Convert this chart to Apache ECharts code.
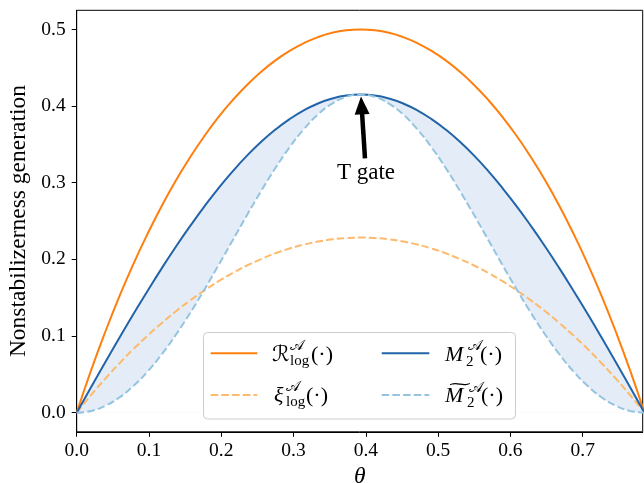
<!DOCTYPE html>
<html><head><meta charset="utf-8">
<script src="https://cdn.jsdelivr.net/npm/echarts@6/dist/echarts.min.js"></script>
<style>html,body{margin:0;padding:0;background:#fff}#c{width:644px;height:483px}</style>
</head><body><div id="c"></div>
<script>
// theta sample points (rad)
const theta = [0, 0.0196, 0.0393, 0.0589, 0.0785, 0.0982, 0.1178, 0.1374, 0.1571, 0.1767, 0.1963,
               0.2160, 0.2356, 0.2553, 0.2749, 0.2945, 0.3142, 0.3338, 0.3534, 0.3731, 0.3927,
               0.4123, 0.4320, 0.4516, 0.4712, 0.4909, 0.5105, 0.5301, 0.5498, 0.5694, 0.5890,
               0.6087, 0.6283, 0.6480, 0.6676, 0.6872, 0.7069, 0.7265, 0.7461, 0.7658, 0.7854];
// R_log (orange solid)
const rLog = [0, 0.0545, 0.1049, 0.1514, 0.1942, 0.2337, 0.2700, 0.3032, 0.3335, 0.3610, 0.3858,
              0.4080, 0.4276, 0.4448, 0.4596, 0.4720, 0.4821, 0.4900, 0.4956, 0.4989, 0.5000,
              0.4989, 0.4956, 0.4900, 0.4821, 0.4720, 0.4596, 0.4448, 0.4276, 0.4080, 0.3858,
              0.3610, 0.3335, 0.3032, 0.2700, 0.2337, 0.1942, 0.1514, 0.1049, 0.0545, 0];
// xi_log (orange dashed)
const xiLog = [0, 0.0227, 0.0440, 0.0642, 0.0830, 0.1006, 0.1170, 0.1324, 0.1465, 0.1596, 0.1715,
               0.1823, 0.1920, 0.2004, 0.2080, 0.2141, 0.2193, 0.2232, 0.2261, 0.2278, 0.2284,
               0.2278, 0.2261, 0.2232, 0.2193, 0.2141, 0.2080, 0.2004, 0.1920, 0.1823, 0.1715,
               0.1596, 0.1465, 0.1324, 0.1170, 0.1006, 0.0830, 0.0642, 0.0440, 0.0227, 0];
// M2 (blue solid)
const m2 = [0, 0.0329, 0.0654, 0.0974, 0.1288, 0.1591, 0.1886, 0.2168, 0.2437, 0.2692, 0.2930,
            0.3151, 0.3353, 0.3534, 0.3694, 0.3831, 0.3945, 0.4034, 0.4099, 0.4138, 0.4150,
            0.4138, 0.4099, 0.4034, 0.3945, 0.3831, 0.3694, 0.3534, 0.3353, 0.3151, 0.2930,
            0.2692, 0.2437, 0.2168, 0.1886, 0.1591, 0.1288, 0.0974, 0.0654, 0.0329, 0];
// M2 tilde (light blue dashed)
const m2t = [0, 0.0022, 0.0089, 0.0198, 0.0349, 0.0538, 0.0763, 0.1020, 0.1303, 0.1608, 0.1926,
             0.2253, 0.2578, 0.2894, 0.3192, 0.3463, 0.3698, 0.3891, 0.4033, 0.4121, 0.4150,
             0.4121, 0.4033, 0.3891, 0.3698, 0.3463, 0.3192, 0.2894, 0.2578, 0.2253, 0.1926,
             0.1608, 0.1303, 0.1020, 0.0763, 0.0538, 0.0349, 0.0198, 0.0089, 0.0022, 0];
const xTicks = [0, 0.1, 0.2, 0.3, 0.4, 0.5, 0.6, 0.7];
const yTicks = [0, 0.1, 0.2, 0.3, 0.4, 0.5];
// annotation (data coords)
const arrowFrom = [0.3988, 0.3318];
const arrowTo = [0.3941, 0.4009];
const noteAt = [0.4002, 0.3133];
const noteText = 'T gate';

const C_OR = '#ff7f0e', C_OR2 = '#fdba6c', C_BL = '#2264a9', C_BL2 = '#94c4df', C_FILL = '#e4edf7';
const SERIF = '"Liberation Serif","Times New Roman",serif';
const pairs = ys => theta.map((t, i) => [t, ys[i]]);
const DASH = [7.5, 3.2];

const chart = echarts.init(document.getElementById('c'), null, {renderer: 'canvas'});

const base = {type: 'line', smooth: true, symbol: 'none', silent: true};
const txt = (x, y, text, font, extra, el) => Object.assign({
  type: 'text', x: x, y: y, silent: true, z: 100,
  style: Object.assign({text: text, font: font, fill: '#000', textAlign: 'left', textVerticalAlign: 'middle', align: 'left', verticalAlign: 'middle'}, extra || {})
}, el || {});
const ln = (x1, y1, x2, y2, color, dash) => ({
  type: 'line', silent: true, z: 100,
  shape: {x1: x1, y1: y1, x2: x2, y2: y2},
  style: {stroke: color, lineWidth: 2, lineDash: dash || null}
});
const MAIN = '22px ' + SERIF, MAINI = 'italic 22px ' + SERIF, SCR = '15px ' + SERIF, SCRCAL = '15px "DejaVu Serif","DejaVu Sans",serif';

chart.setOption({
  animation: false,
  grid: {left: 76.7, right: 1.3, top: 10.3, bottom: 51.2, show: true, borderColor: '#000', borderWidth: 1, backgroundColor: 'transparent', containLabel: false, outerBoundsMode: 'none'},
  xAxis: {
    type: 'value', min: 0, max: 0.783,
    name: 'θ', nameLocation: 'middle', nameGap: 22,
    nameTextStyle: {fontFamily: SERIF, fontStyle: 'italic', fontSize: 23.5, color: '#000'},
    axisLine: {onZero: false, lineStyle: {color: '#000', width: 1}},
    axisTick: {show: true, inside: false, length: 5, lineStyle: {color: '#000', width: 1}, customValues: xTicks},
    axisLabel: {customValues: xTicks, margin: 9, fontFamily: SERIF, fontSize: 19.5, color: '#000', formatter: v => v.toFixed(1)},
    splitLine: {show: false}
  },
  yAxis: {
    type: 'value', min: -0.025, max: 0.525,
    name: 'Nonstabilizerness generation', nameLocation: 'middle', nameGap: 38,
    nameTextStyle: {fontFamily: SERIF, fontSize: 23.5, color: '#000'},
    axisLine: {show: true, onZero: false, lineStyle: {color: '#000', width: 1}},
    axisTick: {show: true, inside: false, length: 5, lineStyle: {color: '#000', width: 1}, customValues: yTicks},
    axisLabel: {customValues: yTicks, margin: 11, fontFamily: SERIF, fontSize: 19.5, color: '#000', formatter: v => v.toFixed(1)},
    splitLine: {show: false}
  },
  series: [
    Object.assign({}, base, {name: 'fill', data: pairs(m2), z: 1, lineStyle: {opacity: 0, width: 0}, areaStyle: {color: C_FILL, opacity: 1}}),
    Object.assign({}, base, {name: 'cover', data: pairs(m2t), z: 1, lineStyle: {opacity: 0, width: 0}, areaStyle: {color: '#ffffff', opacity: 1}}),
    Object.assign({}, base, {name: 'R', data: pairs(rLog), z: 3, lineStyle: {color: C_OR, width: 2},
      markLine: {silent: true, animation: false, symbol: ['none', 'triangle'], symbolSize: [15, 18],
        lineStyle: {color: '#000', width: 4.5, type: 'solid'}, label: {show: false},
        data: [[{coord: arrowFrom}, {coord: arrowTo}]]},
      markPoint: {silent: true, animation: false, symbol: 'circle', symbolSize: 1, itemStyle: {color: 'rgba(0,0,0,0)'},
        label: {show: true, position: 'inside', formatter: noteText, color: '#000', fontFamily: SERIF, fontSize: 23},
        data: [{coord: noteAt}]}
    }),
    Object.assign({}, base, {name: 'xi', data: pairs(xiLog), z: 3, lineStyle: {color: C_OR2, width: 2, type: DASH}}),
    Object.assign({}, base, {name: 'M2', data: pairs(m2), z: 3, lineStyle: {color: C_BL, width: 2}}),
    Object.assign({}, base, {name: 'M2t', data: pairs(m2t), z: 3, lineStyle: {color: C_BL2, width: 2, type: DASH}})
  ],
  graphic: {elements: [
    {type: 'rect', silent: true, z: 99, shape: {x: 203.5, y: 332.5, width: 312, height: 86.5, r: 4},
     style: {fill: 'rgba(255,255,255,0.85)', stroke: '#cccccc', lineWidth: 1}},
    ln(210.7, 353.3, 257.3, 353.3, C_OR),
    ln(210.7, 395, 257.3, 395, C_OR2, DASH),
    ln(381.7, 353.3, 429.3, 353.3, C_BL),
    ln(381.7, 395, 429.3, 395, C_BL2, DASH),
    // R^A_log(.)
    txt(272, 355, 'ℛ', '22px "DejaVu Serif","DejaVu Sans",serif'),
    txt(290, 346, '𝒜', SCRCAL),
    txt(290, 361, 'log', SCR),
    txt(311, 355, '(·)', MAIN),
    // xi^A_log(.)
    txt(274, 396.6, 'ξ', MAINI),
    txt(286, 387.5, '𝒜', SCRCAL),
    txt(286, 402.5, 'log', SCR),
    txt(306, 396.6, '(·)', MAIN),
    // M^A_2(.)
    txt(445, 355, 'M', MAINI),
    txt(468, 346, '𝒜', SCRCAL),
    txt(466, 362, '2', SCR),
    txt(480, 355, '(·)', MAIN),
    // M~^A_2(.)
    txt(460, 385, '~', '16px "DejaVu Serif",serif', {textAlign: 'center', align: 'center'}, {scaleX: 2.0, scaleY: 0.9}),
    txt(445, 396.6, 'M', MAINI),
    txt(469, 388, '𝒜', SCRCAL),
    txt(467, 403, '2', SCR),
    txt(481, 396.6, '(·)', MAIN)
  ]}
});
</script>
</body></html>
